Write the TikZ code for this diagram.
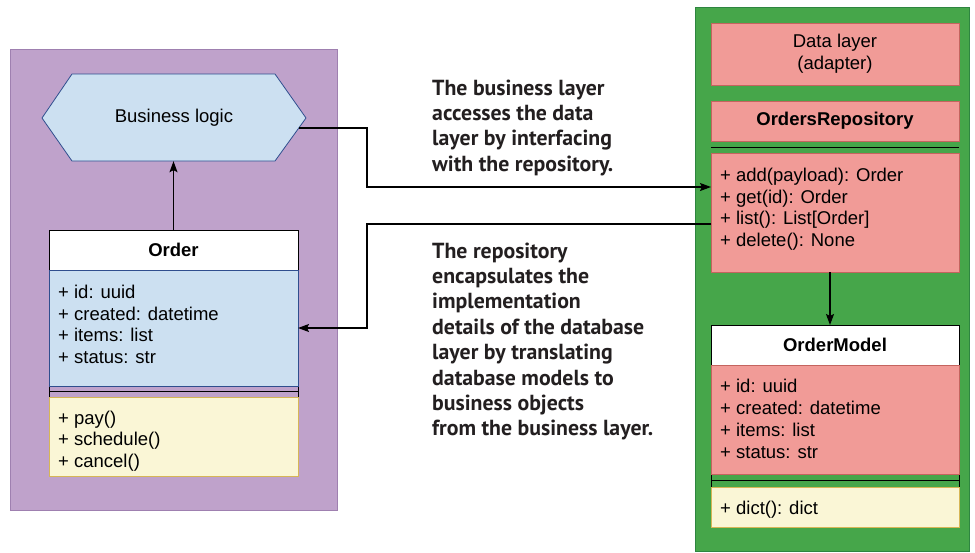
\documentclass[tikz,border=0pt]{standalone}
\usepackage{fontspec}
\setmainfont{Liberation Sans}
\newfontfamily\annfont{PT Sans}
\usetikzlibrary{arrows.meta}
\definecolor{purpfill}{HTML}{BFA2CB}
\definecolor{purpline}{HTML}{9F80B0}
\definecolor{greenfill}{HTML}{46A64A}
\definecolor{greenline}{HTML}{2E8540}
\definecolor{bluefill}{HTML}{CCE0F1}
\definecolor{blueline}{HTML}{2F4E8E}
\definecolor{redfill}{HTML}{F19B97}
\definecolor{redline}{HTML}{C4645F}
\definecolor{yelfill}{HTML}{FAF6D6}
\definecolor{yelline}{HTML}{D6B656}
\definecolor{anntext}{HTML}{231F20}
\newcommand\bodyfont{\fontsize{18.5}{21.7}\selectfont}
\newcommand\annsize{\annfont\bfseries\fontsize{21.8}{25.4}\selectfont}
\begin{document}
\begin{tikzpicture}[x=1pt,y=-1pt,
  cell/.style={anchor=north west, inner sep=0pt, outer sep=0pt, line width=0.8pt, font=\bodyfont},
  layerbox/.style={cell, line width=1pt},
  bluecell/.style={cell, draw=blueline, fill=bluefill},
  redcell/.style={cell, draw=redline, fill=redfill},
  yelcell/.style={cell, draw=yelline, fill=yelfill},
  headcell/.style={cell, draw=black, fill=white, font=\bodyfont\bfseries},
  septick/.style={cell, draw=black, line width=0.9pt},
  lines/.style={anchor=base west, inner sep=0pt, align=left, font=\bodyfont},
  ann/.style={anchor=base west, inner sep=0pt, align=left, font=\annsize, text=anntext},
  conn/.style={draw=black, line width=1.1pt, -{Stealth[length=11pt,width=8pt,inset=2pt]}}
]
\useasboundingbox (0,0) rectangle (975,552);
\fill[white] (0,0) rectangle (975,552);

% business layer
\node[layerbox, draw=purpline, fill=purpfill, minimum width=327pt, minimum height=461pt] (busl) at (10,49) {};
\draw[line width=0.8pt, draw=blueline, fill=bluefill]
  (42,118) -- (72,74) -- (275,74) -- (306,118) -- (275,161) -- (72,161) -- cycle;
\node[inner sep=0pt, minimum width=203pt, minimum height=87pt, font=\bodyfont] (bl) at (174,117.5) {Business logic};
\coordinate (blr) at (299,128);

% Order class
\node[septick, minimum width=249pt, minimum height=11pt] (osep) at (49,386) {};
\draw[line width=0.9pt] (osep.west) -- (osep.east);
\node[headcell, minimum width=249pt, minimum height=40pt] (oh) at (49,230) {Order};
\node[bluecell, minimum width=249pt, minimum height=116pt] (oattr) at (49,270) {};
\node[yelcell, minimum width=249pt, minimum height=79pt] (ometh) at (49,397) {};
% base anchor = baseline of last line
\node[lines] (oattrtxt) at (58,363.5) {+ id: uuid\\+ created: datetime\\+ items: list\\+ status: str};
\node[lines] (omethtxt) at (58,467.5) {+ pay()\\+ schedule()\\+ cancel()};

% data layer
\node[layerbox, draw=greenline, fill=greenfill, minimum width=274pt, minimum height=544pt] (datal) at (695,7) {};
\node[redcell, minimum width=248pt, minimum height=62pt, align=center, font=\fontsize{18.5}{22}\selectfont] (dlt) at (711,23) {Data layer\\(adapter)};
\node[redcell, minimum width=248pt, minimum height=40pt, font=\bodyfont\bfseries] (rh) at (711,101) {OrdersRepository};
\coordinate (rsepl) at (711,147);
\coordinate (rsepr) at (959,147);
\draw[line width=0.9pt] (rsepl) -- (rsepr);
\node[redcell, minimum width=248pt, minimum height=119pt] (rm) at (711,153) {};
\node[lines] (rmtxt) at (720,246.5) {+ add(payload): Order\\+ get(id): Order\\+ list(): List[Order]\\+ delete(): None};

\node[septick, minimum width=248pt, minimum height=13pt] (msep) at (711,474) {};
\draw[line width=0.9pt] (msep.west) -- (msep.east);
\node[headcell, minimum width=248pt, minimum height=40pt] (mh) at (711,325) {OrderModel};
\node[redcell, minimum width=248pt, minimum height=109pt] (mattr) at (711,365) {};
\node[yelcell, minimum width=248pt, minimum height=40pt] (mmeth) at (711,487) {};
\node[lines] (mattrtxt) at (720,458) {+ id: uuid\\+ created: datetime\\+ items: list\\+ status: str};
\node[lines] (mmethtxt) at (720,514.5) {+ dict(): dict};

% annotations
\node[ann] (ann1) at (432,171.2) {The business layer\\accesses the data\\layer by interfacing\\with the repository.};
\node[ann] (ann2) at (432,435.8) {The repository\\encapsulates the\\implementation\\details of the database\\layer by translating\\database models to\\business objects\\from the business layer.};

% connectors
\draw[conn] (oh.north) -- (oh.north |- bl.south);
\draw[conn] (blr) -- ++(68,0) |- ([yshift=25.5pt]rm.west);
\draw[conn] ([yshift=-11.5pt]rm.west) -- ++(-344,0) |- (oattr.east);
\draw[conn] ([xshift=-5pt]rm.south) -- ([xshift=-5pt]mh.north);
\end{tikzpicture}
\end{document}
